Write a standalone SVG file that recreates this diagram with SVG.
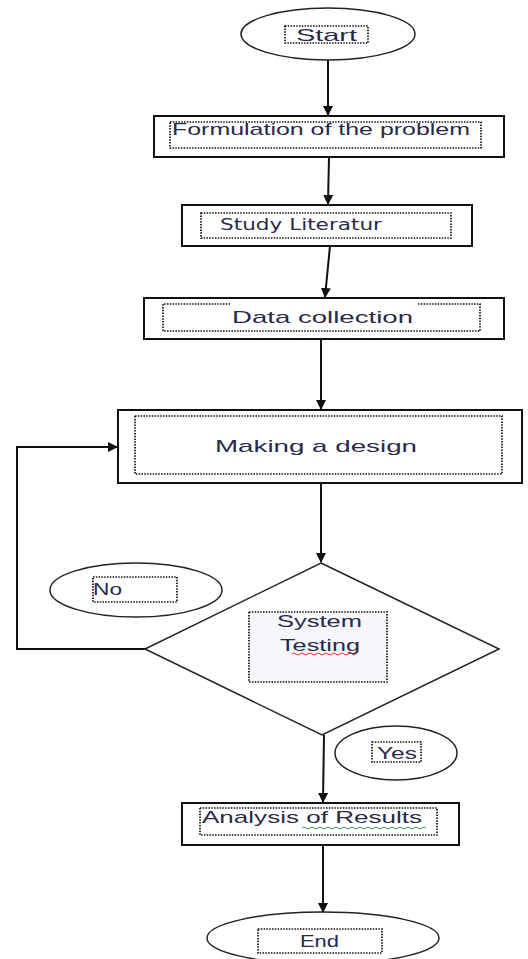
<svg xmlns="http://www.w3.org/2000/svg" width="528" height="959" viewBox="0 0 528 959">
<style>
.box{fill:#fff;stroke:#111;stroke-width:2}
.ell{fill:#fff;stroke:#222;stroke-width:1.5}
.dot{fill:none;stroke:#111;stroke-width:1.7;stroke-dasharray:1.5 1.3}
.t{font-family:"Liberation Sans",Arial,sans-serif;font-size:17px;fill:#2a2a48}
.c{stroke:#111;stroke-width:2;fill:none}
</style>
<defs>
<marker id="ah" markerWidth="10" markerHeight="10" refX="9" refY="5" orient="auto" markerUnits="userSpaceOnUse">
<path d="M0,0 L10,5 L0,10 Z" fill="#111"/>
</marker>
</defs>
<rect width="528" height="959" fill="#fff"/>
<g id="connectors">
<line class="c" x1="328" y1="60" x2="328" y2="115" marker-end="url(#ah)"/>
<line class="c" x1="329" y1="157" x2="328" y2="204" marker-end="url(#ah)"/>
<line class="c" x1="330" y1="246" x2="325" y2="297" marker-end="url(#ah)"/>
<line class="c" x1="321" y1="339" x2="321" y2="409" marker-end="url(#ah)"/>
<line class="c" x1="321" y1="483" x2="321" y2="562" marker-end="url(#ah)"/>
<polyline class="c" points="145,649 17,649 17,447 117,447" marker-end="url(#ah)"/>
<line class="c" x1="324" y1="735" x2="323" y2="802" marker-end="url(#ah)"/>
<line class="c" x1="323" y1="845" x2="323" y2="912" marker-end="url(#ah)"/>
</g>
<g id="start">
<ellipse class="ell" cx="328" cy="34" rx="87" ry="26"/>
<rect class="dot" x="285" y="26" width="83" height="17"/>
<text class="t" x="296" y="41" textLength="61" lengthAdjust="spacingAndGlyphs">Start</text>
</g>
<g id="formulation">
<rect class="box" x="154" y="116" width="350" height="41"/>
<rect class="dot" x="170" y="122" width="311" height="26"/>
<text class="t" x="172" y="135" textLength="298" lengthAdjust="spacingAndGlyphs">Formulation of the problem</text>
</g>
<g id="study">
<rect class="box" x="182" y="205" width="290" height="41"/>
<rect class="dot" x="201" y="213" width="250" height="25"/>
<text x="220" y="230" font-family="'DejaVu Sans',Verdana,sans-serif" font-size="16" fill="#2a2a48" textLength="162" lengthAdjust="spacingAndGlyphs">Study Literatur</text>
</g>
<g id="data">
<rect class="box" x="144" y="298" width="360" height="41"/>
<path class="dot" d="M230,304 H163 V331 H480 V304 H418"/>
<text class="t" x="232" y="323" textLength="181" lengthAdjust="spacingAndGlyphs">Data collection</text>
</g>
<g id="design">
<rect class="box" x="118" y="410" width="404" height="73"/>
<rect class="dot" x="135" y="416" width="367" height="58"/>
<text class="t" x="215" y="452" textLength="202" lengthAdjust="spacingAndGlyphs">Making a design</text>
</g>
<g id="no">
<ellipse class="ell" cx="136" cy="590" rx="86" ry="27"/>
<rect class="dot" x="93" y="577" width="84" height="25"/>
<text class="t" x="93" y="595" textLength="29" lengthAdjust="spacingAndGlyphs">No</text>
</g>
<g id="testing">
<polygon points="321,563 499,649 322,735 145,649" fill="#fff" stroke="#222" stroke-width="1.5"/>
<rect x="249" y="612" width="138" height="70" fill="#f5f7fa" stroke="#111" stroke-width="1.7" stroke-dasharray="1.5 1.3"/>
<text class="t" x="277" y="627" textLength="85" lengthAdjust="spacingAndGlyphs">System</text>
<text class="t" x="280" y="651" textLength="80" lengthAdjust="spacingAndGlyphs">Testing</text>
<path d="M292,654 q2,-2 4,0 t4,0 t4,0 t4,0 t4,0 t4,0 t4,0 t4,0 t4,0 t4,0 t4,0 t4,0 t4,0 t4,0 t4,0 t4,0" fill="none" stroke="#e03030" stroke-width="1"/>
</g>
<g id="yes">
<ellipse class="ell" cx="396" cy="753" rx="61" ry="27"/>
<rect class="dot" x="372" y="742" width="49" height="20"/>
<text class="t" x="377" y="759" textLength="40" lengthAdjust="spacingAndGlyphs">Yes</text>
</g>
<g id="analysis">
<rect class="box" x="182" y="803" width="277" height="42"/>
<rect class="dot" x="200" y="808" width="237" height="27"/>
<text class="t" x="202" y="823" textLength="220" lengthAdjust="spacingAndGlyphs">Analysis of  Results</text>
<path d="M302,828 q2,-2 4,0 t4,0 t4,0 t4,0 t4,0 t4,0 t4,0 t4,0 t4,0 t4,0 t4,0 t4,0 t4,0 t4,0 t4,0 t4,0 t4,0 t4,0 t4,0 t4,0 t4,0 t4,0 t4,0 t4,0 t4,0 t4,0 t4,0 t4,0 t4,0 t4,0 t4,0" fill="none" stroke="#3aa040" stroke-width="1"/>
</g>
<g id="end">
<ellipse class="ell" cx="323" cy="938" rx="116" ry="26"/>
<rect class="dot" x="258" y="929" width="124" height="24"/>
<text class="t" x="300" y="947" textLength="39" lengthAdjust="spacingAndGlyphs">End</text>
</g>
</svg>
